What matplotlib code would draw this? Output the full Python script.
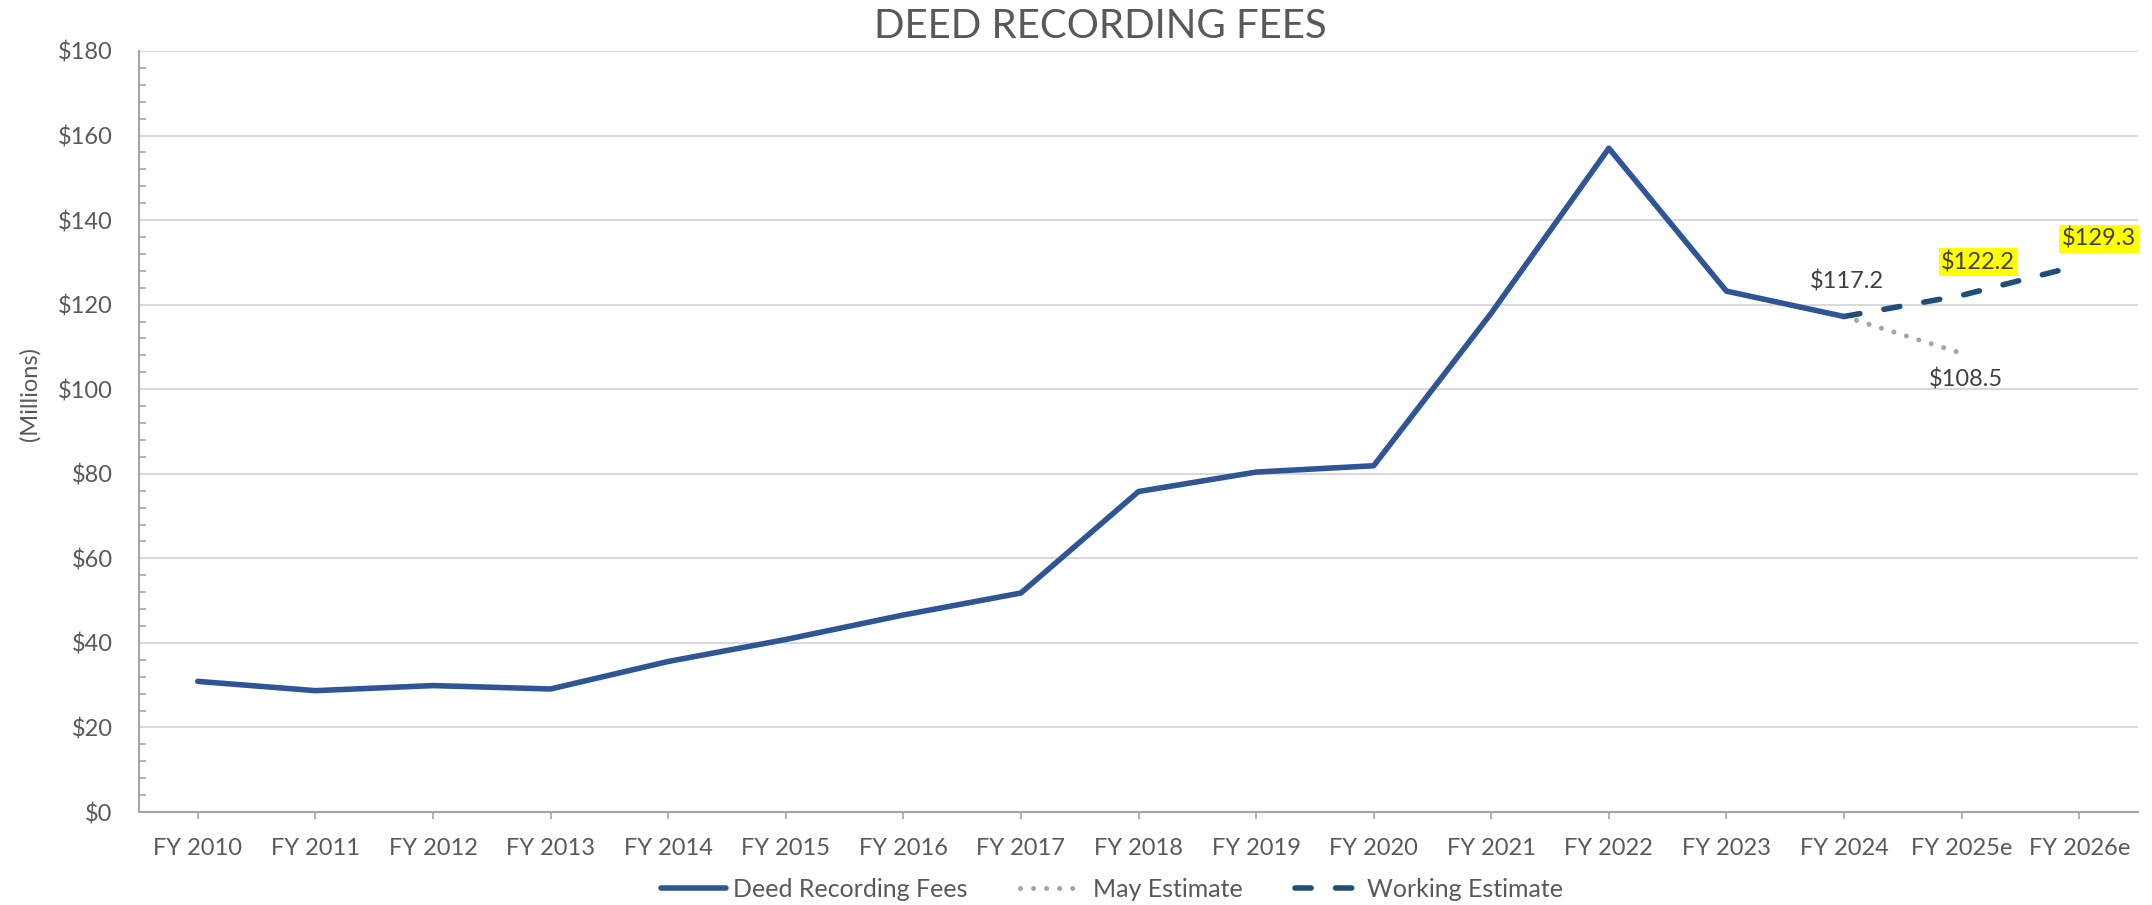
import numpy as np
import matplotlib.pyplot as plt
from matplotlib.ticker import MultipleLocator, FuncFormatter

plt.rcParams['font.family'] = ['Lato', 'DejaVu Sans']

years = ["FY 2010", "FY 2011", "FY 2012", "FY 2013", "FY 2014", "FY 2015",
         "FY 2016", "FY 2017", "FY 2018", "FY 2019", "FY 2020", "FY 2021",
         "FY 2022", "FY 2023", "FY 2024", "FY 2025e", "FY 2026e"]

deed_fees = [30.9, 28.7, 29.9, 29.1, 35.6, 40.8, 46.6, 51.8, 75.8, 80.4, 81.9,
             118.0, 157.0, 123.2, 117.2]
may_est = [117.2, 108.5]
working_est = [117.2, 122.2, 129.3]

text_col = "#595959"
fig = plt.figure(figsize=(21.52, 9.05), dpi=100)
ax = fig.add_axes([139 / 2152, 1 - 812 / 905, (2138 - 139) / 2152, (812 - 51) / 905])

x = np.arange(len(years))
ax.plot(x[:len(deed_fees)], deed_fees, color="#2F5597", lw=4.0,
        solid_capstyle="round", solid_joinstyle="round", label="Deed Recording Fees", zorder=3)
ax.plot(x[14:14 + len(may_est)], may_est, color="#A5A5A5", lw=3.6,
        linestyle=(0, (0.01, 2.6)), dash_capstyle="round", label="May Estimate", zorder=2)
ax.plot(x[14:14 + len(working_est)], working_est, color="#1F4E79", lw=4.0,
        linestyle=(0, (2.9, 4.4)), dash_capstyle="round", label="Working Estimate", zorder=2)

# data labels
lab = dict(textcoords="offset points", ha="center", va="center", fontsize=17, color="#404040")
ax.annotate("$117.2", (14, 117.2), xytext=(2, 25), **lab)
ax.annotate("$108.5", (15, 108.5), xytext=(3, -19), **lab)
hl = dict(boxstyle="square,pad=0.12", facecolor="#FFFF00", edgecolor="none")
ax.annotate("$122.2", (15, 122.2), xytext=(12, 24), bbox=hl, **lab)
ax.annotate("$129.3", (16, 129.3), xytext=(14, 19), bbox=hl, annotation_clip=False, **lab)

ax.set_xlim(-0.5, len(years) - 0.5)
ax.set_ylim(0, 180)
ax.set_xticks(x)
ax.set_xticklabels(years)
ax.yaxis.set_major_locator(MultipleLocator(20))
ax.yaxis.set_minor_locator(MultipleLocator(4))
ax.yaxis.set_major_formatter(FuncFormatter(lambda v, p: f"${v:.0f}"))
ax.tick_params(axis="y", which="major", length=0, pad=19, labelsize=17, labelcolor=text_col)
ax.tick_params(axis="y", which="minor", direction="in", length=5, width=1.2, color="#A6A6A6")
ax.tick_params(axis="x", length=5, width=1.2, color="#A6A6A6", pad=14, labelsize=17, labelcolor=text_col)
ax.grid(axis="y", which="major", color="#D9D9D9", lw=1.5)
ax.set_axisbelow(True)
for s in ["top", "right"]:
    ax.spines[s].set_visible(False)
for s in ["left", "bottom"]:
    ax.spines[s].set_color("#A6A6A6")
    ax.spines[s].set_linewidth(1.5)

fig.text(1100 / 2152, 1 - 27 / 905, "DEED RECORDING FEES", ha="center", va="center",
         fontsize=29, color=text_col)
fig.text(30 / 2152, 1 - 394 / 905, "(Millions)", rotation=90, ha="center", va="center",
         fontsize=17, color=text_col)

fig.legend(loc="center", bbox_to_anchor=(1112 / 2152, 1 - 889 / 905), ncol=3, frameon=False,
           fontsize=18, labelcolor=text_col, handlelength=2.6, columnspacing=2.1,
           handletextpad=0.3)

fig.savefig("out.png", dpi=100)
